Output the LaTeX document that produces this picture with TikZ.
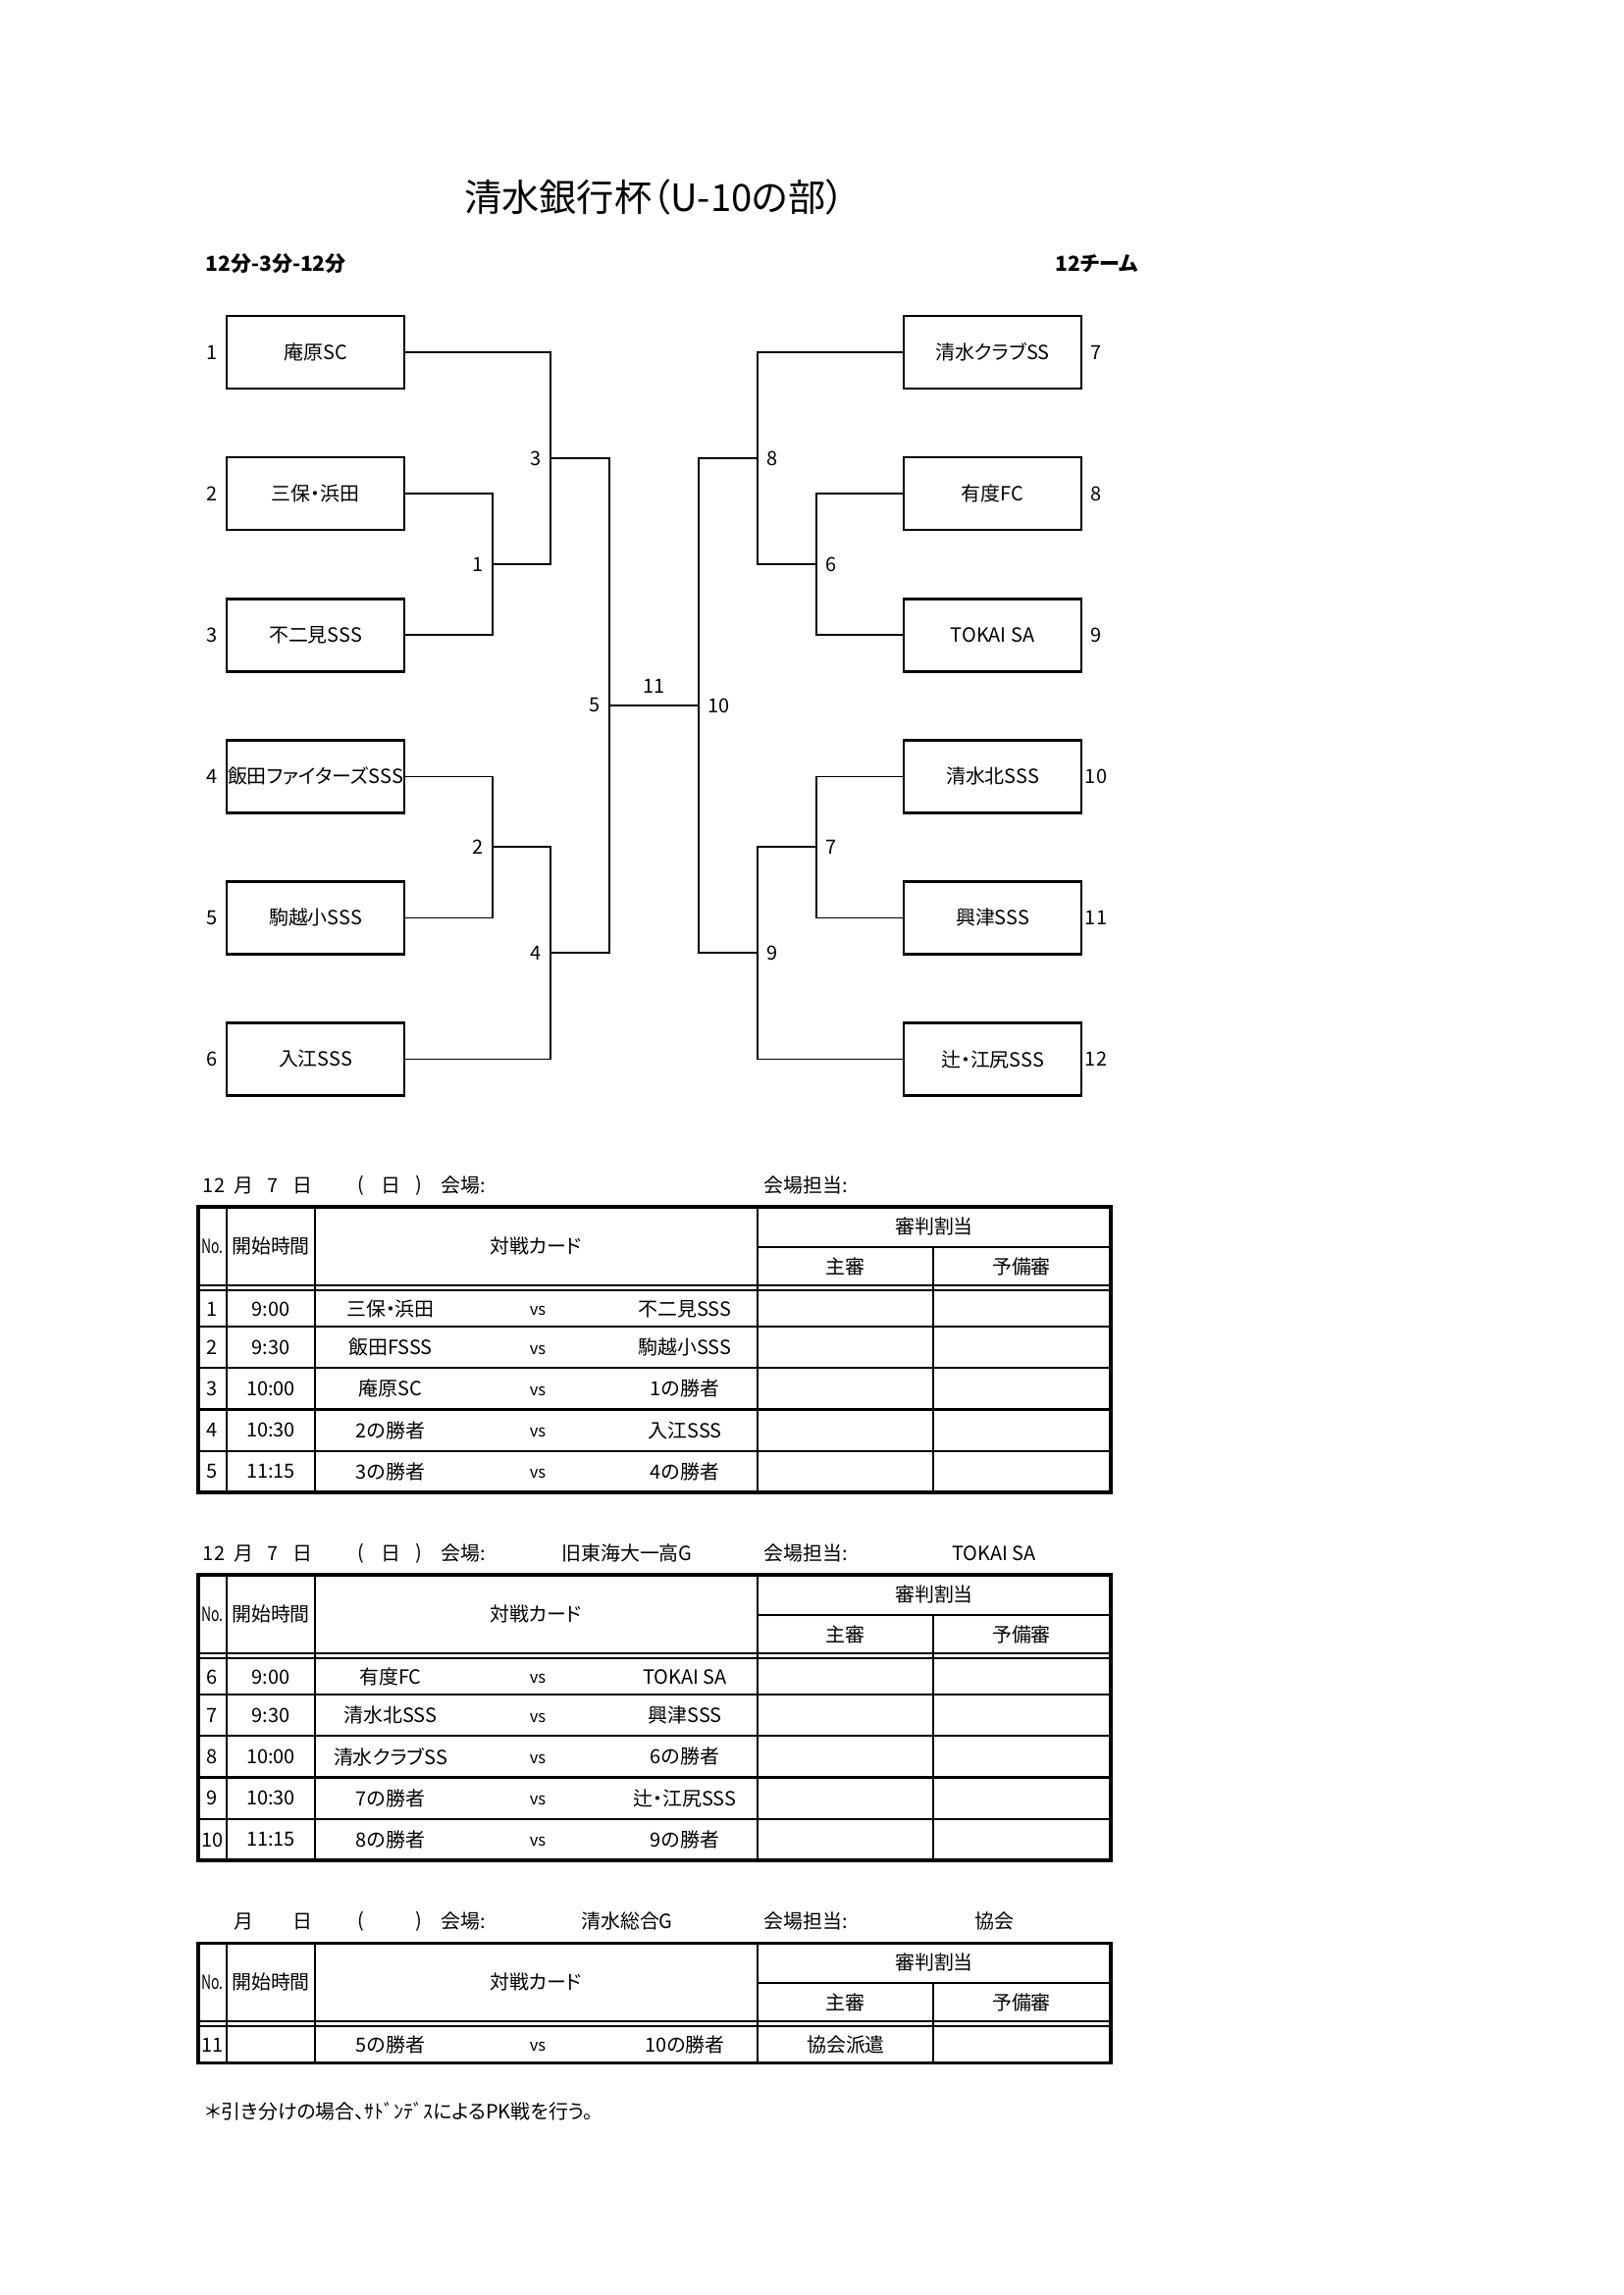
\documentclass[tikz,border=0pt]{standalone}
\usepackage{fontspec}
\setmainfont{Noto Sans CJK JP}[RawFeature=+palt]
\usetikzlibrary{positioning}

\newcommand{\bodyfont}{\fontsize{7.2pt}{8.6pt}\selectfont}
\newcommand{\titlefont}{\fontsize{13.8pt}{16pt}\selectfont}
\newcommand{\vsfont}{\fontsize{6pt}{7pt}\selectfont}

% date / venue line above a card table
\newcommand{\dateline}[6]{%
  \node[cell] (#1mo) at (218,1208) {#2};
  \node[cell] (#1mk) at (248,1208) {月};
  \node[cell] (#1dy) at (278,1208) {#3};
  \node[cell] (#1dk) at (308,1208) {日};
  \node[cell] (#1po) at (368,1208) {(};
  \node[cell] (#1wd) at (398,1208) {#4};
  \node[cell] (#1pc) at (427,1208) {)};
  \node[cell, anchor=west] (#1vl) at (449,1208) {会場:};
  \node[cell] (#1vn) at (639,1208) {#5};
  \node[cell, anchor=west] (#1sl) at (778,1208) {会場担当:};
  \node[cell] (#1sn) at (1013,1208) {#6};
}

% card table: #1 prefix, #2 number of rows, #3 rows
\newcommand{\cardtable}[3]{%
  \pgfmathsetmacro{\tbot}{1352+42.25*(#2-1)}
  \draw[tabin] (231,1230) -- (231,\tbot) (321,1230) -- (321,\tbot) (772,1230) -- (772,\tbot);
  \draw[tabin] (772,1271) -- (1132,1271) (951,1271) -- (951,\tbot);
  \draw[tabin] (202,1310) -- (1132,1310) (202,1315) -- (1132,1315);
  \node[cell] (#1no) at (216.5,1270) {\scalebox{0.7}[1]{No.}};
  \node[cell] (#1time) at (276,1270) {開始時間};
  \node[cell] (#1card) at (546,1270) {対戦カード};
  \node[cell] (#1ref) at (952,1250) {審判割当};
  \node[cell] (#1main) at (861,1291) {主審};
  \node[cell] (#1sub) at (1041,1291) {予備審};
  \foreach \no/\tm/\ta/\tb/\rf [count=\k] in {#3} {
    \pgfmathsetmacro{\ry}{\k==1 ? 1334 : 1352+42.25*(\k-1.5)}
    \node[cell] (#1n\k) at (216.5,\ry) {\no};
    \node[cell] (#1t\k) at (276,\ry) {\tm};
    \node[cell] (#1a\k) at (398,\ry) {\ta};
    \node[cell, font=\vsfont, yshift=-0.3mm] (#1v\k) at (548,\ry) {vs};
    \node[cell] (#1b\k) at (698,\ry) {\tb};
    \node[cell] (#1r\k) at (862,\ry) {\rf};
    \ifnum\k<#2 \draw[rowsep] (202,{1352+42.25*(\k-1)}) -- (1132,{1352+42.25*(\k-1)}); \fi
  }
  \draw[tabout] (202,1230) rectangle (1132,\tbot);
}

\begin{document}
\begin{tikzpicture}[
    x=0.127mm, y=-0.127mm,
    node distance=8.9mm,
    team/.style={rectangle, draw, line width=1pt, minimum width=23mm, minimum height=9.4mm, inner sep=0pt, outer sep=0pt, font=\bodyfont},
    seed/.style={font=\bodyfont, inner sep=0pt},
    wire/.style={line width=0.5pt},
    rnd/.style={font=\bodyfont, inner sep=1pt},
    cell/.style={font=\bodyfont, inner sep=0pt},
    tabout/.style={line width=1.1pt},
    tabin/.style={line width=0.5pt},
    rowsep/.style={line width=0.75pt}
]
\useasboundingbox (0,0) rectangle (1654,2339);

% Title
\node[font=\titlefont] (title) at (667,201) {清水銀行杯（U-10の部）};
\node[font=\fontsize{7.6pt}{9pt}\selectfont\bfseries, anchor=west, inner sep=0pt] (format) at (209,269) {12分-3分-12分};
\node[font=\fontsize{7.6pt}{9pt}\selectfont\bfseries, anchor=east, inner sep=0pt] (count) at (1160,269) {12チーム};

% Left teams
\node[team] (b1) at (321.5,359) {庵原SC};
\node[team, below=of b1] (b2) {三保・浜田};
\node[team, below=of b2] (b3) {不二見SSS};
\node[team, below=of b3] (b4) {飯田ファイターズSSS};
\node[team, below=of b4] (b5) {駒越小SSS};
\node[team, below=of b5] (b6) {入江SSS};

% Right teams
\node[team] (b7) at (1011.5,359) {清水クラブSS};
\node[team, below=of b7] (b8) {有度FC};
\node[team, below=of b8] (b9) {TOKAI SA};
\node[team, below=of b9] (b10) {清水北SSS};
\node[team, below=of b10] (b11) {興津SSS};
\node[team, below=of b11] (b12) {辻・江尻SSS};

% Seed numbers
\foreach \i in {1,...,6} \node[seed] (s\i) at ([xshift=-1.9mm]b\i.west) {\i};
\foreach \i in {7,...,12} \node[seed] (s\i) at ([xshift=1.9mm]b\i.east) {\i};

% Match points
\coordinate (m1) at (502,575);
\coordinate (m2) at (502,863);
\coordinate (m3) at (561,467);
\coordinate (m4) at (561,971);
\coordinate (m5) at (621,719);
\coordinate (m6) at (832,575);
\coordinate (m7) at (832,863);
\coordinate (m8) at (772,467);
\coordinate (m9) at (772,971);
\coordinate (m10) at (712,719);

% Bracket - left
\draw[wire] (b2.east) -| (m1) |- (b3.east);
\draw[wire] (b4.east) -| (m2) |- (b5.east);
\draw[wire] (b1.east) -| (m3) |- (m1);
\draw[wire] (m2) -| (m4) |- (b6.east);
\draw[wire] (m3) -| (m5) |- (m4);

% Bracket - right
\draw[wire] (b8.west) -| (m6) |- (b9.west);
\draw[wire] (b10.west) -| (m7) |- (b11.west);
\draw[wire] (b7.west) -| (m8) |- (m6);
\draw[wire] (m7) -| (m9) |- (b12.west);
\draw[wire] (m8) -| (m10) |- (m9);

% Final
\draw[wire] (m5) -- node[rnd, above=1.2mm] (r11) {11} (m10);

% Match numbers
\foreach \m in {1,...,5} \node[rnd, anchor=east, xshift=-0.8mm] (r\m) at (m\m) {\m};
\foreach \m in {6,...,10} \node[rnd, anchor=west, xshift=0.8mm] (r\m) at (m\m) {\m};

% Table 1
\dateline{ta}{12}{7}{日}{}{}
\cardtable{ta}{5}{1/9:00/三保・浜田/不二見SSS/{}, 2/9:30/飯田FSSS/駒越小SSS/{}, 3/10:00/庵原SC/1の勝者/{}, 4/10:30/2の勝者/入江SSS/{}, 5/11:15/3の勝者/4の勝者/{}}

% Table 2
\begin{scope}[shift={(0,375)}]
\dateline{tb}{12}{7}{日}{旧東海大一高G}{TOKAI SA}
\cardtable{tb}{5}{6/9:00/有度FC/TOKAI SA/{}, 7/9:30/清水北SSS/興津SSS/{}, 8/10:00/清水クラブSS/6の勝者/{}, 9/10:30/7の勝者/辻・江尻SSS/{}, 10/11:15/8の勝者/9の勝者/{}}
\end{scope}

% Table 3
\begin{scope}[shift={(0,750)}]
\dateline{tc}{}{}{}{清水総合G}{協会}
\cardtable{tc}{1}{11/{}/5の勝者/10の勝者/協会派遣}
\end{scope}

% Note
\node[cell, anchor=west] (note) at (209,2152) {＊引き分けの場合、ｻﾄﾞﾝﾃﾞｽによるPK戦を行う。};

\end{tikzpicture}
\end{document}
